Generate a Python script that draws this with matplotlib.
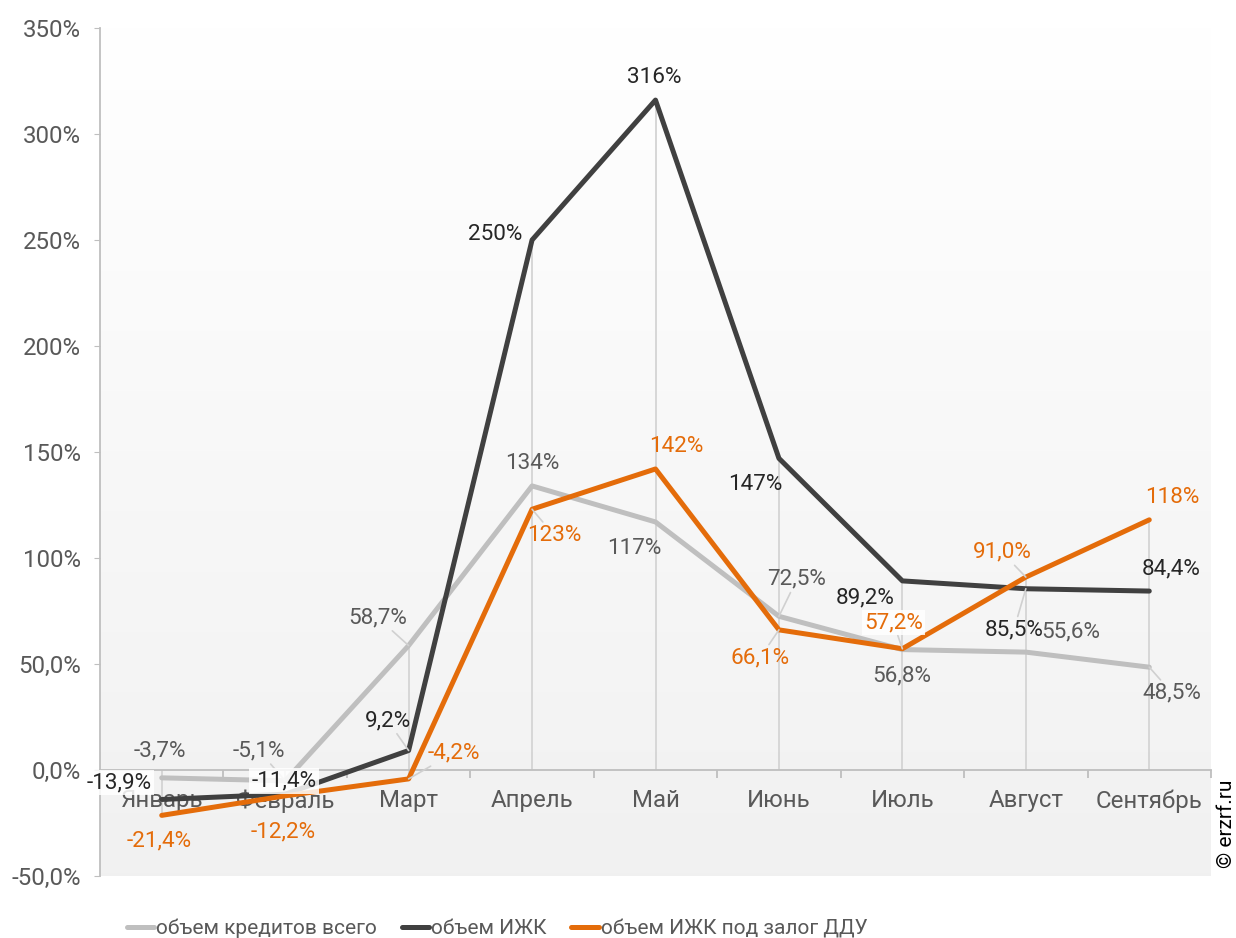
import numpy as np
import matplotlib

matplotlib.use('Agg')
import matplotlib.pyplot as plt
from matplotlib.ticker import FuncFormatter, FixedLocator

plt.rcParams['font.family'] = ['Roboto', 'DejaVu Sans']

months = ['Январь', 'Февраль', 'Март', 'Апрель', 'Май', 'Июнь', 'Июль', 'Август', 'Сентябрь']
total_credit = [-3.7, -5.1, 58.7, 134, 117, 72.5, 56.8, 55.6, 48.5]
izhk = [-13.9, -11.4, 9.2, 250, 316, 147, 89.2, 85.5, 84.4]
izhk_ddu = [-21.4, -12.2, -4.2, 123, 142, 66.1, 57.2, 91.0, 118]
series_names = ['объем кредитов всего', 'объем ИЖК', 'объем ИЖК под залог ДДУ']

line_colors = ['#bfbfbf', '#404040', '#e46c0a']
label_colors = ['#595959', '#262626', '#e46c0a']

# label offsets in pixels (dx, dy), leader line flags, white box flags
label_offsets = [
    [(-2, 27), (-26, 30), (-31, 28), (0, 22), (-21, -27), (18, 37), (-1, -26), (45, 20), (23, -26)],
    [(-43, 17), (-1, 13), (-21, 30), (-37, 6), (-1, 23), (-24, -26), (-37, -17), (-12, -41), (22, 22)],
    [(-3, -26), (-2, -36), (45, 26), (22, -26), (21, 22), (-19, -28), (-9, 26), (-24, 25), (23, 22)],
]
leaders = [
    [0, 1, 1, 0, 0, 1, 0, 0, 1],
    [0, 0, 1, 0, 0, 0, 0, 1, 0],
    [0, 0, 1, 1, 0, 1, 1, 1, 0],
]
boxed = [
    [0] * 9,
    [1, 1, 0, 0, 0, 0, 0, 0, 0],
    [0, 0, 0, 0, 0, 0, 1, 0, 0],
]


def pct(v):
    if abs(v) >= 100:
        return '%.0f%%' % v
    return ('%.1f%%' % v).replace('.', ',')


fig = plt.figure(figsize=(12.36, 9.38), dpi=100)
ax = fig.add_axes([100 / 1236, 62 / 938, 1111 / 1236, 848 / 938])

x = np.arange(len(months))
ax.set_xlim(-0.5, len(months) - 0.5)
ax.set_ylim(-50, 350)

# background gradient
grad = np.linspace(1.0, 0.945, 256).reshape(-1, 1)
ax.imshow(np.dstack([grad, grad, grad]), extent=[-0.5, len(months) - 0.5, -50, 350],
          aspect='auto', zorder=0, interpolation='bicubic')
ax.set_facecolor('white')

all_series = [total_credit, izhk, izhk_ddu]

# drop lines
for i in range(len(months)):
    vals = [s[i] for s in all_series]
    ax.vlines(i, min(0, min(vals)), max(0, max(vals)), color='#d4d4d4', lw=1.3, zorder=1)

for k, (vals, c) in enumerate(zip(all_series, line_colors)):
    ax.plot(x, vals, color=c, lw=3.6, solid_capstyle='round', solid_joinstyle='round',
            label=series_names[k], zorder=3 + k)

for k, vals in enumerate(all_series):
    for i, v in enumerate(vals):
        kw = {}
        if leaders[k][i]:
            kw['arrowprops'] = dict(arrowstyle='-', color='#d0d0d0', lw=1.2, shrinkA=0, shrinkB=0)
        if boxed[k][i]:
            kw['bbox'] = dict(boxstyle='square,pad=0.1', fc='white', ec='none', alpha=0.85)
        ax.annotate(pct(v), (i, v), xytext=label_offsets[k][i], textcoords='offset pixels',
                    ha='center', va='center', fontsize=16.2, color=label_colors[k], zorder=10, **kw)

# axes styling
for s in ['top', 'right']:
    ax.spines[s].set_visible(False)
ax.spines['left'].set_color('#bfbfbf')
ax.spines['bottom'].set_color('#bfbfbf')
ax.spines['left'].set_linewidth(1.3)
ax.spines['bottom'].set_linewidth(1.3)
ax.spines['bottom'].set_position(('data', 0))

ax.set_yticks(np.arange(-50, 351, 50))
ax.yaxis.set_major_formatter(FuncFormatter(lambda v, p: pct(v)))
ax.tick_params(axis='y', length=4, color='#bfbfbf', labelsize=17.3, labelcolor='#595959', pad=10)

ax.set_xticks(x)
ax.set_xticklabels(months)
ax.xaxis.set_minor_locator(FixedLocator(np.arange(-0.5, len(months), 1.0)))
ax.tick_params(axis='x', which='major', length=0, labelsize=17.3, labelcolor='#595959', pad=14)
ax.tick_params(axis='x', which='minor', length=6, color='#bfbfbf', width=1.3)
for t in ax.get_xticklabels():
    t.set_zorder(2)

leg = fig.legend(loc='lower left', bbox_to_anchor=(108 / 1236, -0.02), ncol=3, frameon=False,
                 fontsize=15, handlelength=1.3, handletextpad=0.1, columnspacing=1.2)
for t in leg.get_texts():
    t.set_color('#595959')

fig.text(1226 / 1236, 1 - 824 / 938, '© erzrf.ru', rotation=90, ha='center', va='center',
         fontsize=15, color='black')

fig.savefig('out.png', dpi=100)
